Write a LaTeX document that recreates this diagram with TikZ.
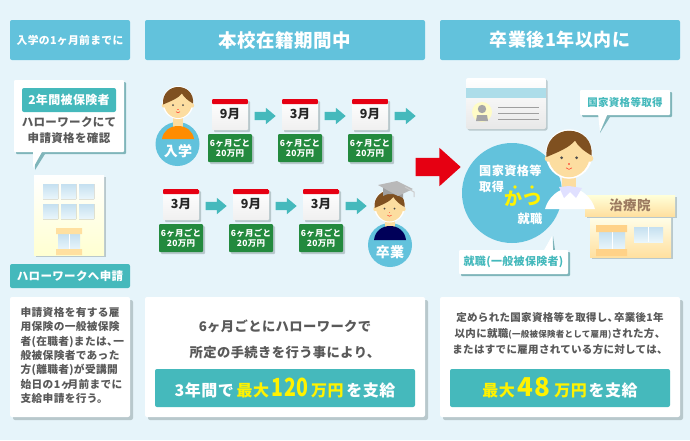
\documentclass[tikz,border=0pt]{standalone}
\usepackage{fontspec}
\setmainfont{Noto Sans CJK JP}[LetterSpace=3]
\usetikzlibrary{shadows,shapes.arrows}
\definecolor{bgblue}{HTML}{E6F4FA}
\definecolor{skyblue}{HTML}{62C2DC}
\definecolor{tealbar}{HTML}{45B9BC}
\definecolor{tealshade}{HTML}{7FB5BA}
\definecolor{boxshade}{HTML}{B8C8CC}
\definecolor{calred}{HTML}{E60012}
\definecolor{moneygreen}{HTML}{238A3E}
\definecolor{skin}{HTML}{FCDDA0}
\definecolor{hair}{HTML}{7F5020}
\definecolor{textgray}{HTML}{595959}
\definecolor{roofbrown}{HTML}{9B7A60}
\definecolor{bandcream}{HTML}{FFE0A0}
\definecolor{glasstop}{HTML}{C5E0F0}
\definecolor{glassbottom}{HTML}{EAF6FB}
\definecolor{cardstripe}{HTML}{ADDDE9}
\newcommand{\fs}[1]{\fontsize{#1}{#1}\selectfont}
\newcommand{\tten}{、\kern-.4em}
\tikzset{
  headbox/.style={fill=skyblue,rounded corners=2pt,inner sep=0pt,minimum height=40pt,text=white,font=\bfseries},
  tealbox/.style={fill=tealbar,rounded corners=2pt,inner sep=0pt,text=white,font=\bfseries},
  panelbox/.style={fill=white,rounded corners=2pt,inner sep=0pt,minimum height=120pt,
    drop shadow={shadow xshift=3pt,shadow yshift=-3pt,fill=boxshade,opacity=1}},
  bubblebox/.style={fill=white,rounded corners=1pt,inner sep=0pt,
    drop shadow={shadow xshift=2pt,shadow yshift=-2pt,fill=tealshade,opacity=1}},
  calbox/.style={rounded corners=1pt,inner sep=0pt,minimum width=36pt,minimum height=31pt,
    top color=white,bottom color=gray!12,text=black!85,font=\bfseries\fs{12.5},
    drop shadow={shadow xshift=2pt,shadow yshift=-2pt,fill=boxshade,opacity=1},
    path picture={\fill[calred] (path picture bounding box.north west) rectangle ([yshift=-5pt]path picture bounding box.north east);}},
  moneybox/.style={fill=moneygreen,rounded corners=1pt,inner sep=0pt,minimum width=44pt,minimum height=28pt,
    text=white,align=center,font=\bfseries\fontsize{8.5}{10.5}\selectfont,
    drop shadow={shadow xshift=2pt,shadow yshift=-2pt,fill=boxshade,opacity=1}},
  arrowbox/.style={single arrow,fill=tealbar,inner sep=4pt,minimum width=16pt,minimum height=21pt,
    single arrow head extend=4pt,single arrow tip angle=80,anchor=tip},
  glass/.style={top color=glasstop,bottom color=glassbottom},
  face/.pic={
    \fill[white] (0,0) ellipse (15.6 and 16.5);
    \fill[skin] (-14,3) circle (2.2) (14,3) circle (2.2);
    \fill[skin] (0,0) ellipse (14 and 15.5);
    \fill[hair] (-15,2) .. controls (-16,-9) and (-8,-15.5) .. (0,-15.5) .. controls (9,-15.5) and (16,-9) .. (15,1)
      .. controls (10,-2) and (6,-5) .. (4,-9) .. controls (0,-4) and (-8,-1) .. (-15,2) -- cycle;
    \fill[black!70] (-5,2.5) circle (1) (5,2.5) circle (1);
    \fill[red!45!skin] (-0.6,6) rectangle (0.6,7);
    \draw[red!70!skin,line width=0.6pt] (-2,9.2) .. controls (-1,10.6) and (1,10.6) .. (2,9.2);
  }
}
\begin{document}
\begin{tikzpicture}[x=1pt,y=-1pt]
\useasboundingbox (0,0) rectangle (690,440);
\fill[bgblue] (0,0) rectangle (690,440);

\node[headbox,minimum width=120pt] (H1) at (70,40) {\fs{10.8}入学の1ヶ月前までに};
\node[headbox,minimum width=280pt] (H2) at (285,40) {\fs{18.5}本校在籍期間中};
\node[headbox,minimum width=240pt] (H3) at (560,40) {\fs{18}卒業後1年以内に};

\fill[tealshade] (35,154) -- (45,154) -- (35,170) -- cycle;
\node[bubblebox,minimum width=110pt,minimum height=72pt] (B1) at (69,116) {};
\fill[white] (33,150) -- (43,150) -- (33,168) -- cycle;
\node[tealbox,minimum width=94pt,minimum height=24pt] (B2) at (69,100) {\fs{12}2年間被保険者};
\node[text=textgray,align=center,font=\bfseries\fontsize{11.5}{15.5}\selectfont] (B3) at (69,130) {ハローワークにて\\申請資格を確認};

\node[rectangle,inner sep=0pt,minimum width=70pt,minimum height=80pt,top color=white,bottom color=yellow!18,
  drop shadow={shadow xshift=2pt,shadow yshift=-2pt,fill=boxshade,opacity=1}] (S1) at (69,215) {};
\fill[glass] (43,184) rectangle (58,199) (61,184) rectangle (76,199) (79,184) rectangle (94,199);
\fill[glass] (43,204) rectangle (58,219) (61,204) rectangle (76,219) (79,204) rectangle (94,219);
\fill[glass] (58,234) rectangle (80,250);
\draw[white,line width=0.8pt] (69,234) -- (69,250);
\fill[bandcream] (56,228) rectangle (82,234) (56,249) rectangle (82,255);
\node[tealbox,minimum width=120pt,minimum height=24pt] (S2) at (70,276) {\fs{11.5}ハローワークへ申請};

\fill[skyblue] (177.5,144) circle (22);
\fill[skin] (173,115) rectangle (183,128);
\fill[orange!90!yellow] (162,139) .. controls (163,131) and (170,126) .. (178,126) .. controls (186,126) and (193,131) .. (194,139) -- cycle;
\pic at (178,102.5) {face};
\node[text=white,font=\bfseries\fs{14}] (P1) at (178,151) {入学};

\node[calbox] (C1) at (230,114.5) {\raisebox{-3pt}{9月}};
\node[calbox] (C2) at (300,114.5) {\raisebox{-3pt}{3月}};
\node[calbox] (C3) at (370,114.5) {\raisebox{-3pt}{9月}};
\node[moneybox] (M1) at (230,148) {6ヶ月ごと\\20万円};
\node[moneybox] (M2) at (300,148) {6ヶ月ごと\\20万円};
\node[moneybox] (M3) at (370,148) {6ヶ月ごと\\20万円};
\node[arrowbox] (A1) at (276,116) {};
\node[arrowbox] (A2) at (346,116) {};
\node[arrowbox] (A3) at (416,116) {};

\node[calbox] (C4) at (181,204.5) {\raisebox{-3pt}{3月}};
\node[calbox] (C5) at (251,204.5) {\raisebox{-3pt}{9月}};
\node[calbox] (C6) at (321,204.5) {\raisebox{-3pt}{3月}};
\node[moneybox] (M4) at (181,238) {6ヶ月ごと\\20万円};
\node[moneybox] (M5) at (251,238) {6ヶ月ごと\\20万円};
\node[moneybox] (M6) at (321,238) {6ヶ月ごと\\20万円};
\node[arrowbox] (A4) at (227,206) {};
\node[arrowbox] (A5) at (297,206) {};
\node[arrowbox] (A6) at (367,206) {};

\fill[skyblue] (390,245) circle (22);
\fill[skin] (385,218) rectangle (395,228);
\fill[blue!35!black] (374,240) .. controls (375,231) and (382,226) .. (390,226) .. controls (398,226) and (405,231) .. (406,240) -- cycle;
\pic at (389.5,206) {face};
\fill[gray!75] (383,186) -- (383,196) .. controls (390,192) and (396,194) .. (403,198) -- (403,190) -- cycle;
\fill[gray!55] (378,185) -- (397,181) -- (413,189) -- (398,196) -- cycle;
\draw[gray!40,line width=1pt] (405,187) -- (414,192) -- (414,197);
\node[text=white,font=\bfseries\fs{14}] (P2) at (390,252) {卒業};

\node[single arrow,fill=calred,inner sep=9pt,minimum width=38pt,minimum height=45pt,
  single arrow head extend=10pt,single arrow tip angle=84,anchor=tip] (R1) at (461,167) {};

\node[rectangle,rounded corners=2pt,inner sep=0pt,minimum width=80pt,minimum height=51pt,top color=white,bottom color=gray!18,
  drop shadow={shadow xshift=1.5pt,shadow yshift=-1.5pt,fill=boxshade,opacity=1}] (K1) at (506,103.5) {};
\fill[cardstripe] (466,88) rectangle (546,98);
\fill[yellow!22] (482,112) circle (10);
\fill[gray!70] (482,109) circle (4.2);
\fill[gray!70] (476,121) -- (477,115) -- (487,115) -- (488,121) -- cycle;
\draw[gray!75,line width=0.8pt] (498,107) -- (539,107) (498,113) -- (539,113) (498,119) -- (539,119);

\fill[skyblue] (512,193) circle (50);
\node[anchor=west,inner sep=0pt,text=white,font=\bfseries\fs{12.2}] (T1) at (479,171) {国家資格等};
\node[anchor=west,inner sep=0pt,text=white,font=\bfseries\fs{12.2}] (T2) at (479,187) {取得};
\node[text=yellow,font=\bfseries\fs{18}] (T3) at (523,199) {かつ};
\fill[yellow] (515,187) circle (1.8) (532,187) circle (1.8);
\node[text=white,font=\bfseries\fs{12.2}] (T4) at (530,219) {就職};

\fill[tealshade] (600,117) -- (610,117) -- (600,133) -- cycle;
\node[bubblebox,minimum width=90pt,minimum height=25pt,text=tealbar,font=\bfseries\fs{10.5}] (B4) at (625,102.5) {国家資格等取得};
\fill[white] (598,113) -- (608,113) -- (600,132) -- cycle;

\fill[tealshade] (553,250) -- (555,250) -- (553,236) -- cycle;
\fill[white] (543,252) -- (553,252) -- (552,236) -- cycle;
\node[bubblebox,minimum width=109pt,minimum height=24pt,text=tealbar,font=\bfseries\fs{11}] (B5) at (513.5,262) {就職(一般被保険者)};
\fill[white] (543,252) -- (553,252) -- (552,246) -- cycle;

\node[rectangle,inner sep=0pt,minimum width=81pt,minimum height=41pt,top color=yellow!8,bottom color=bandcream,
  drop shadow={shadow xshift=2pt,shadow yshift=-2pt,fill=boxshade,opacity=1}] (I1) at (630.5,236.5) {};
\fill[glass] (599,232) rectangle (625,250);
\draw[white,line width=0.8pt] (612,232) -- (612,250);
\fill[bandcream!85!orange] (596,225) rectangle (627,232) (596,249) rectangle (627,256);
\fill[glass] (634,227) rectangle (663,242);
\draw[white,line width=0.8pt] (648.5,227) -- (648.5,242);
\node[rectangle,inner sep=0pt,minimum width=90pt,minimum height=21pt,top color=yellow!15,bottom color=bandcream,text=roofbrown,font=\bfseries\fs{13.5},
  drop shadow={shadow xshift=2pt,shadow yshift=-2pt,fill=boxshade,opacity=1}] (I2) at (630,205.5) {治療院};

\fill[skin] (562,172) rectangle (576,192);
\fill[white] (545,209) .. controls (548,198) and (558,188) .. (570,188) .. controls (582,188) and (592,198) .. (595,209) -- cycle;
\fill[blue!12!white] (569,186) -- (559,187) -- (564,198) -- (570,192) -- (576,198) -- (582,188) -- cycle;
\pic[scale=1.5] at (569,154) {face};

\node[panelbox,minimum width=120pt] (D1) at (70,357) {};
\node[anchor=north west,inner sep=0pt,text=textgray,align=left,font=\bfseries\fontsize{10.7}{14.4}\selectfont] (D1T) at (20.5,307) {申請資格を有する雇\\用保険の一般被保険\\者(在職者)または\tten 一\\般被保険者であった\\方(離職者)が受講開\\始日の1ヶ\kern-.35em 月前までに\\支給申請を行う。};

\node[panelbox,minimum width=280pt] (D2) at (285,357) {};
\node[text=textgray,align=center,font=\bfseries\fontsize{13.3}{26}\selectfont] (D2T) at (285,339) {6ヶ月ごとにハローワークで\\所定の手続きを行う事により、};
\node[tealbox,minimum width=260pt,minimum height=38pt] (D2B) at (285,388) {\fs{16}3年間で\,{\color{yellow}最大\,\scalebox{0.78}[1]{\fs{25}120}\,\fs{16}万円}\,を支給};

\node[panelbox,minimum width=240pt] (D3) at (560,357) {};
\node[text=textgray,align=center,font=\bfseries\fontsize{10.5}{16}\selectfont] (D3T) at (560,333) {定められた国家資格等を取得し\tten 卒業後1年\\以内に就職{\fs{8.5}(一般被保険者として雇用)}された方、\\またはすでに雇用されている方に対しては、};
\node[tealbox,minimum width=220pt,minimum height=38pt] (D3B) at (560,388) {{\color{yellow}\fs{16}最大\,\fs{26}48\,\fs{16}万円}\,\fs{16}を支給};
\end{tikzpicture}
\end{document}
